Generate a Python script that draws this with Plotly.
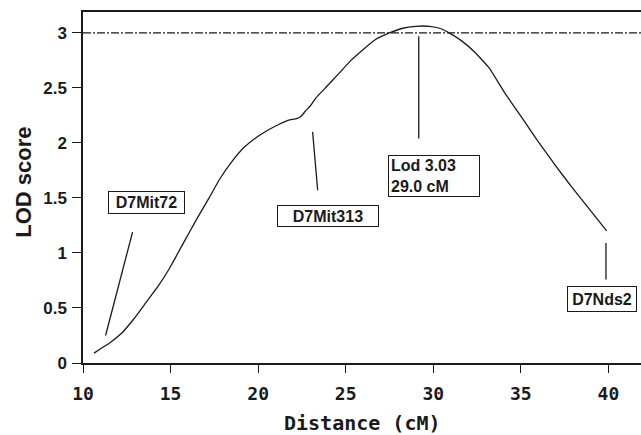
import plotly.graph_objects as go

# LOD curve
dist_cm = [10.63, 11.0, 11.5, 12.2, 12.9, 13.6, 14.3, 14.9, 15.7, 16.5, 17.2, 17.8,
           18.5, 19.2, 19.9, 20.6, 21.2, 21.8, 22.2, 22.5, 22.7, 23.0, 23.3, 23.9,
           24.6, 25.3, 26.0, 26.7, 27.5, 28.2, 29.0, 29.8, 30.4, 30.9, 31.6, 32.4,
           33.2, 34.1, 35.1, 36.0, 37.0, 37.9, 38.9, 39.9]
lod = [0.09, 0.13, 0.18, 0.27, 0.40, 0.55, 0.70, 0.85, 1.08, 1.31, 1.50, 1.67,
       1.83, 1.96, 2.05, 2.12, 2.17, 2.21, 2.22, 2.25, 2.29, 2.34, 2.41, 2.51,
       2.63, 2.75, 2.85, 2.94, 3.00, 3.04, 3.06, 3.06, 3.04, 3.00, 2.93, 2.82,
       2.68, 2.45, 2.22, 2.01, 1.79, 1.60, 1.40, 1.20]

threshold = 3.0

# marker pointer lines: (x0, y0, x1, y1)
marker_names = ["D7Mit72", "D7Mit313", "Lod 3.03<br>29.0 cM", "D7Nds2"]
pointer_x0 = [12.83, 23.11, 29.17, 39.86]
pointer_y0 = [1.19, 2.10, 2.97, 1.09]
pointer_x1 = [11.29, 23.40, 29.17, 39.86]
pointer_y1 = [0.25, 1.57, 2.04, 0.76]
label_x = [13.6, 23.97, 30.03, 39.63]
label_y = [1.462, 1.339, 1.703, 0.585]
label_w = [71, 96, 86, 64]
label_h = [17, 16, 36, 20]
label_align = ["center", "center", "left", "center"]

x_ticks = [10, 15, 20, 25, 30, 35, 40]
y_ticks = [0, 0.5, 1, 1.5, 2, 2.5, 3]
y_tick_text = ["0", "0.5", "1", "1.5", "2", "2.5", "3"]

ink = "#1a1a1a"

fig = go.Figure()
fig.add_trace(go.Scatter(x=dist_cm, y=lod, mode="lines",
                         line=dict(color=ink, width=1.3, shape="spline", smoothing=0.3),
                         hoverinfo="skip"))
fig.add_trace(go.Scatter(x=[10, 41.86], y=[threshold, threshold], mode="lines",
                         line=dict(color=ink, width=1.1, dash="8px,2px,2px,2px"),
                         hoverinfo="skip"))
for i in range(len(marker_names)):
    fig.add_trace(go.Scatter(x=[pointer_x0[i], pointer_x1[i]],
                             y=[pointer_y0[i], pointer_y1[i]], mode="lines",
                             line=dict(color=ink, width=1.3), hoverinfo="skip"))
    fig.add_annotation(x=label_x[i], y=label_y[i], xref="x", yref="y",
                       xanchor="center", yanchor="middle",
                       text=marker_names[i], showarrow=False,
                       width=label_w[i], height=label_h[i], align=label_align[i],
                       bordercolor=ink, borderwidth=1, borderpad=2, bgcolor="white",
                       font=dict(family="Liberation Sans, Arial", size=16,
                                 color=ink, weight="bold"))

fig.add_annotation(text="LOD score", xref="paper", yref="paper", x=-0.106, y=0.516,
                   xanchor="center", yanchor="middle",
                   showarrow=False, textangle=-90,
                   font=dict(family="Liberation Sans, Arial", size=22, color=ink,
                             weight="bold"))
fig.add_annotation(text="Distance (cM)", xref="paper", yref="paper", x=0.5, y=-0.171,
                   xanchor="center", yanchor="middle",
                   showarrow=False,
                   font=dict(family="DejaVu Sans Mono", size=20, color=ink,
                             weight="bold"))

fig.update_layout(
    width=641, height=435,
    margin=dict(l=83, r=0, t=12, b=72),
    paper_bgcolor="white", plot_bgcolor="white",
    showlegend=False,
)
fig.update_xaxes(range=[10, 41.86], tickvals=x_ticks, ticks="outside", ticklen=8,
                 tickwidth=1.3, tickcolor=ink, showline=True, linecolor=ink,
                 linewidth=1.5, mirror=True, showgrid=False, zeroline=False,
                 ticklabelstandoff=6,
                 tickfont=dict(family="DejaVu Sans Mono", size=18, color=ink,
                               weight="bold"))
fig.update_yaxes(range=[0, 3.19], tickvals=y_ticks, ticktext=y_tick_text,
                 ticks="outside", ticklen=9, tickwidth=1.3, tickcolor=ink,
                 showline=True, linecolor=ink, linewidth=1.5, showgrid=False,
                 zeroline=False, ticklabelstandoff=2,
                 tickfont=dict(family="Liberation Sans, Arial", size=17, color=ink,
                               weight="bold"))

fig.write_html("out.html")
